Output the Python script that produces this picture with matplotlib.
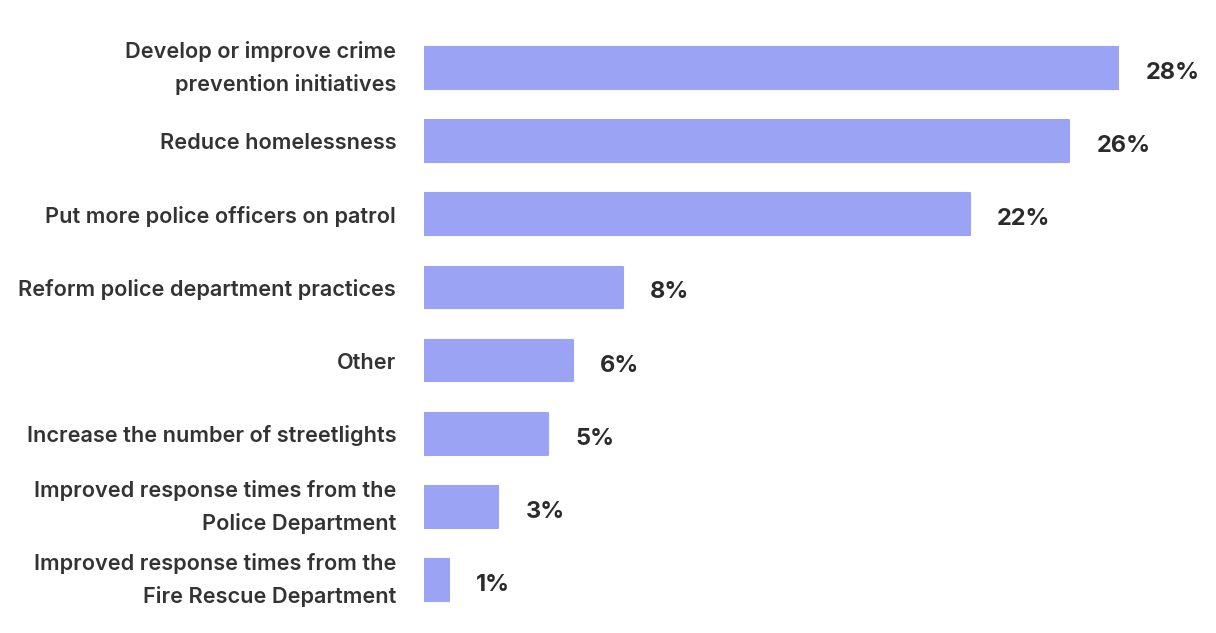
import matplotlib
matplotlib.use("Agg")
import matplotlib.pyplot as plt

categories = [
    "Develop or improve crime\nprevention initiatives",
    "Reduce homelessness",
    "Put more police officers on patrol",
    "Reform police department practices",
    "Other",
    "Increase the number of streetlights",
    "Improved response times from the\nPolice Department",
    "Improved response times from the\nFire Rescue Department",
]
values = [28, 26, 22, 8, 6, 5, 3, 1]
value_labels = [f"{v}%" for v in values]

plt.rcParams['font.family'] = ['Inter', 'DejaVu Sans']

fig = plt.figure(figsize=(12.16, 6.33), dpi=100)
ax = fig.add_axes([424/1216, 1-616.6/633, (1119-424)/1216, (616.6-31.4)/633])

bar_color = "#9ba4f4"
pos = list(range(len(categories)))
bars = ax.barh(pos, values, height=0.57, color=bar_color, edgecolor=bar_color,
               linewidth=1.5, joinstyle='round')

ax.set_xlim(0, 28)
ax.set_ylim(len(categories)-0.5, -0.5)
ax.set_yticks(pos)
ax.set_yticklabels(categories, fontsize=15.6, fontweight='semibold', color='#333333',
                   linespacing=1.72, ha='right')
for t in ax.get_yticklabels():
    if "\n" in t.get_text():
        t.set_va('center')
ax.tick_params(axis='y', length=0, pad=20)
ax.set_xticks([])
for s in ax.spines.values():
    s.set_visible(False)

for b, lab in zip(bars, value_labels):
    ax.annotate(lab, xy=(b.get_width(), b.get_y()+b.get_height()/2),
                xytext=(27, -5), textcoords='offset pixels', va='center', ha='left',
                fontsize=17, fontweight='bold', color='#2b2b2b', annotation_clip=False)

fig.savefig("out.png", dpi=100, facecolor='white')
